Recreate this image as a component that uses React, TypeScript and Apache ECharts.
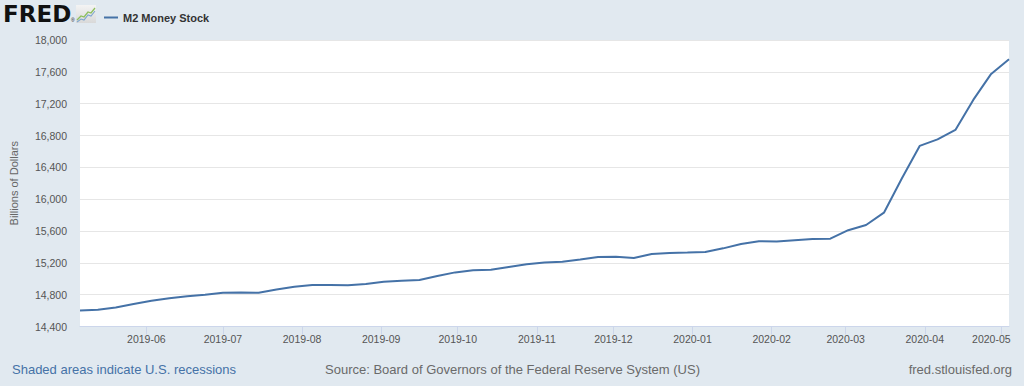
import React, { useEffect, useRef } from "react";
import * as echarts from "echarts";

const dates: string[] = [
  "2019-05-06", "2019-05-13", "2019-05-20", "2019-05-27",
  "2019-06-03", "2019-06-10", "2019-06-17", "2019-06-24",
  "2019-07-01", "2019-07-08", "2019-07-15", "2019-07-22", "2019-07-29",
  "2019-08-05", "2019-08-12", "2019-08-19", "2019-08-26",
  "2019-09-02", "2019-09-09", "2019-09-16", "2019-09-23", "2019-09-30",
  "2019-10-07", "2019-10-14", "2019-10-21", "2019-10-28",
  "2019-11-04", "2019-11-11", "2019-11-18", "2019-11-25",
  "2019-12-02", "2019-12-09", "2019-12-16", "2019-12-23", "2019-12-30",
  "2020-01-06", "2020-01-13", "2020-01-20", "2020-01-27",
  "2020-02-03", "2020-02-10", "2020-02-17", "2020-02-24",
  "2020-03-02", "2020-03-09", "2020-03-16", "2020-03-23", "2020-03-30",
  "2020-04-06", "2020-04-13", "2020-04-20", "2020-04-27",
  "2020-05-04",
];

const m2Values: number[] = [
  14600, 14610, 14640, 14683,
  14723, 14754, 14780, 14800,
  14824, 14827, 14825, 14866, 14899,
  14920, 14922, 14918, 14933,
  14962, 14976, 14985, 15035, 15080,
  15106, 15114, 15148, 15181,
  15203, 15215, 15243, 15274,
  15277, 15261, 15311, 15324, 15329,
  15335, 15382, 15437, 15472,
  15467, 15485, 15501, 15504,
  15610, 15676, 15830, 16260, 16669,
  16751, 16870, 17247, 17574,
  17759,
];

const seriesName = "M2 Money Stock";
const yAxisTitle = "Billions of Dollars";
const yMin = 14400;
const yMax = 18000;
const yStep = 400;
const footerLeft = "Shaded areas indicate U.S. recessions";
const footerSource = "Source: Board of Governors of the Federal Reserve System (US)";
const footerRight = "fred.stlouisfed.org";

const toTs = (s: string) => {
  const [y, m, d] = s.split("-").map(Number);
  return Date.UTC(y, m - 1, d);
};

export default function App() {
  const ref = useRef<HTMLDivElement>(null);
  useEffect(() => {
    if (!ref.current) return;
    const chart = echarts.init(ref.current, undefined, { renderer: "svg" });
    const font = "'Liberation Sans', Arial, sans-serif";
    const pad = (n: number) => (n < 10 ? "0" + n : "" + n);
    const lastTs = toTs(dates[dates.length - 1]);
    chart.setOption({
      animation: false,
      useUTC: true,
      backgroundColor: "#e1e9f0",
      textStyle: { fontFamily: font },
      grid: { left: 79, right: 15, top: 40, bottom: 59.5, show: true, backgroundColor: "#ffffff", borderWidth: 0 },
      legend: {
        left: 99,
        top: 7,
        icon: "rect",
        itemWidth: 14,
        itemHeight: 2,
        textStyle: { fontFamily: font, fontWeight: "bold", fontSize: 11, color: "#333333" },
        data: [seriesName],
      },
      xAxis: {
        type: "time",
        min: toTs(dates[0]),
        max: lastTs,
        splitNumber: 12,
        axisLine: { show: true, lineStyle: { color: "#ccd6eb", width: 1 } },
        axisTick: { show: true, length: 8, lineStyle: { color: "#ccd6eb" } },
        splitLine: { show: false },
        axisLabel: {
          fontSize: 10.5,
          color: "#555555",
          margin: 7,
          hideOverlap: false,
          formatter: (v: number) => {
            const d = new Date(v);
            const txt = d.getUTCFullYear() + "-" + pad(d.getUTCMonth() + 1);
            return lastTs - v < 20 * 86400000 ? "{edge|" + txt + "}" : txt;
          },
          rich: {
            edge: { fontSize: 10.5, color: "#555555", fontFamily: font, padding: [0, 20, 0, 0] },
          },
        },
      },
      yAxis: {
        type: "value",
        min: yMin,
        max: yMax,
        interval: yStep,
        name: yAxisTitle,
        nameLocation: "middle",
        nameRotate: 90,
        nameGap: 61,
        nameTextStyle: { fontSize: 11, color: "#666666", fontFamily: font },
        axisLine: { show: false },
        axisTick: { show: false },
        splitLine: { lineStyle: { color: "#e6e6e6", width: 1 } },
        axisLabel: {
          fontSize: 10.5,
          color: "#555555",
          margin: 13,
          formatter: (v: number) => v.toLocaleString("en-US"),
        },
      },
      series: [
        {
          name: seriesName,
          type: "line",
          showSymbol: false,
          symbol: "none",
          lineStyle: { color: "#4572a7", width: 2 },
          itemStyle: { color: "#4572a7" },
          data: dates.map((d, i) => [toTs(d), m2Values[i]]),
        },
      ],
      graphic: [
        {
          type: "text",
          left: 3,
          top: 2,
          style: { text: "FRED", fontFamily: "'DejaVu Sans', sans-serif", fontWeight: 900, fontSize: 23, fill: "#111111" },
        },
        {
          type: "text",
          left: 71,
          top: 17,
          style: { text: "®", fontFamily: font, fontSize: 5, fill: "#111111" },
        },
        {
          type: "rect",
          shape: { x: 76, y: 5, width: 20, height: 18 },
          style: {
            fill: new echarts.graphic.LinearGradient(0, 0, 0, 1, [
              { offset: 0, color: "#f4f4f4" },
              { offset: 1, color: "#d9d9d9" },
            ]),
          },
        },
        {
          type: "polyline",
          shape: { points: [[77, 20], [81, 16], [84, 17], [88, 12], [91, 13], [95, 8]] },
          style: { stroke: "#8cbf5c", lineWidth: 1.3, fill: "none" },
        },
        {
          type: "polyline",
          shape: { points: [[77, 22], [81, 19], [84, 20], [88, 15], [91, 16], [95, 11]] },
          style: { stroke: "#7ea6cf", lineWidth: 1.1, fill: "none" },
        },
        {
          type: "text",
          left: 12,
          top: 363,
          style: { text: footerLeft, fontFamily: font, fontSize: 13, fill: "#4572a7" },
        },
        {
          type: "text",
          left: 325,
          top: 363,
          style: { text: footerSource, fontFamily: font, fontSize: 13, fill: "#6a6a6a" },
        },
        {
          type: "text",
          right: 12,
          top: 363,
          style: { text: footerRight, fontFamily: font, fontSize: 13, fill: "#6a6a6a" },
        },
      ],
    });
    return () => chart.dispose();
  }, []);
  return <div ref={ref} style={{ position: "fixed", left: 0, top: 0, width: 1024, height: 386 }} />;
}
